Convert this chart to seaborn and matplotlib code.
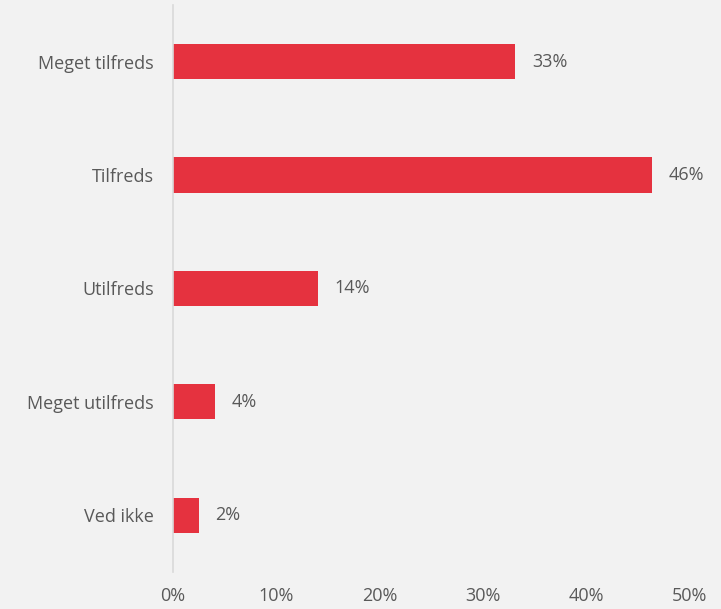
import matplotlib
matplotlib.use('Agg')
import pandas as pd
import matplotlib.pyplot as plt
import seaborn as sns
from matplotlib.ticker import PercentFormatter

# Data
categories = ['Meget tilfreds', 'Tilfreds', 'Utilfreds', 'Meget utilfreds', 'Ved ikke']
values = [33.1, 46.3, 14.0, 4.1, 2.5]
labels = ['33%', '46%', '14%', '4%', '2%']

df = pd.DataFrame({'Svar': categories, 'Andel': values})

bg = '#F2F2F2'
red = '#E5323F'
text_col = '#595959'

sns.set_theme(style='white')
plt.rcParams['font.family'] = ['Open Sans', 'DejaVu Sans']

fig = plt.figure(figsize=(7.21, 6.09), dpi=100, facecolor=bg)
ax = fig.add_axes([0.24, 0.061, 0.717, 0.931])
ax.set_facecolor(bg)

sns.barplot(data=df, x='Andel', y='Svar', color=red, width=0.31, ax=ax,
            saturation=1, edgecolor='none')

fs = 13
for cont in ax.containers:
    ax.bar_label(cont, labels=labels, padding=12, fontsize=fs, color=text_col)

ax.set_xlim(0, 50)
ax.set_ylim(4.5, -0.5)
ax.set_xticks([0, 10, 20, 30, 40, 50])
ax.xaxis.set_major_formatter(PercentFormatter(decimals=0))
ax.set_xlabel('')
ax.set_ylabel('')
ax.tick_params(axis='both', length=0, labelsize=fs, colors=text_col)
ax.tick_params(axis='x', pad=11)
ax.tick_params(axis='y', pad=14)

for s in ['top', 'right', 'bottom']:
    ax.spines[s].set_visible(False)
ax.spines['left'].set_color('#D9D9D9')
ax.spines['left'].set_linewidth(1.2)

plt.savefig('out.png', dpi=100, facecolor=bg)
